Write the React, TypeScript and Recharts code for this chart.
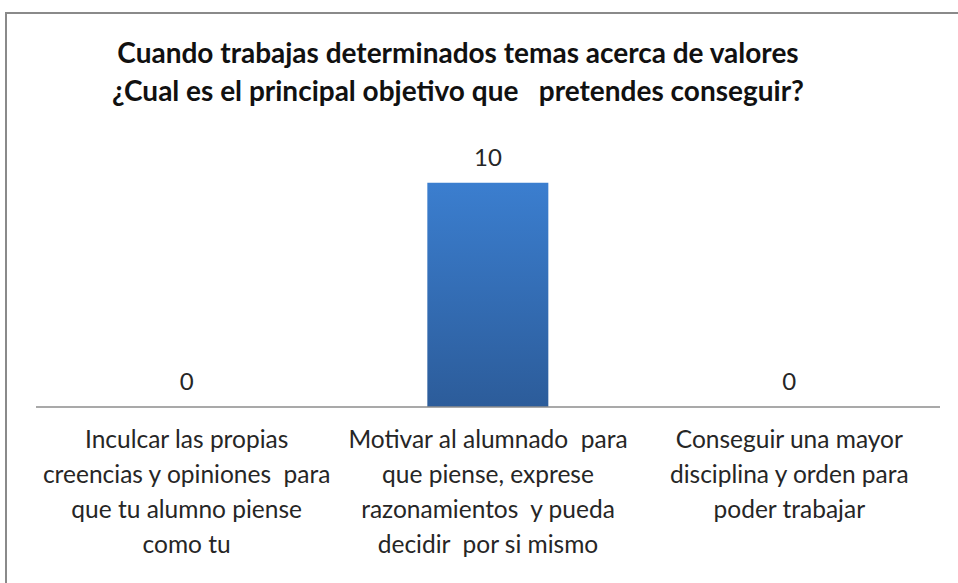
import { Bar, ComposedChart, LabelList, Line, XAxis, YAxis } from "recharts";

const categoryLines: string[][] = [
  ["Inculcar las propias", "creencias y opiniones  para", "que tu alumno piense", "como tu"],
  ["Motivar al alumnado  para", "que piense, exprese", "razonamientos  y pueda", "decidir  por si mismo"],
  ["Conseguir una mayor", "disciplina y orden para", "poder trabajar"],
];
const responses = [0, 10, 0];
const titleLines = [
  "Cuando trabajas determinados temas acerca de valores",
  "¿Cual es el principal objetivo que   pretendes conseguir?",
];

const data = categoryLines.map((lines, i) => ({
  name: lines.join(" "),
  lines,
  value: responses[i],
}));

const FONT = "Lato, 'Open Sans', sans-serif";

function CategoryTick(props: any) {
  const { x, y, payload } = props;
  const lines = data[payload.index]?.lines ?? [payload.value];
  return (
    <text x={x} y={y} textAnchor="middle" fill="#262626" fontSize={24.5} fontFamily={FONT}>
      {lines.map((line: string, i: number) => (
        <tspan key={i} x={x} dy={i === 0 ? 33 : 35} style={{ whiteSpace: "pre" }}>
          {line}
        </tspan>
      ))}
    </text>
  );
}

// labels drawn from the point positions so the zero values get one too
function ValueLabel(props: any) {
  const { x, y, value } = props;
  return (
    <text x={x} y={Number(y) - 17} textAnchor="middle" fill="#262626" fontSize={24} fontFamily={FONT}>
      {value}
    </text>
  );
}

export default function App() {
  return (
    <div style={{ position: "absolute", left: 0, top: 0, width: 958, height: 583, background: "#fff", overflow: "hidden" }}>
      <div
        style={{
          position: "absolute",
          left: 5,
          top: 12,
          right: -10,
          bottom: -10,
          borderTop: "2px solid #8a8a8a",
          borderLeft: "2px solid #8a8a8a",
        }}
      />
      <div
        style={{
          position: "absolute",
          left: 0,
          width: 916,
          top: 33,
          textAlign: "center",
          fontFamily: FONT,
          fontWeight: 700,
          fontSize: 28,
          lineHeight: "38px",
          color: "#111",
          whiteSpace: "pre",
        }}
      >
        {titleLines.map((t) => (
          <div key={t}>{t}</div>
        ))}
      </div>
      <ComposedChart
        width={958}
        height={583}
        data={data}
        margin={{ top: 138, right: 18, bottom: 0, left: 36 }}
        style={{ position: "absolute", left: 0, top: 0 }}
      >
        <defs>
          <linearGradient id="barFill" x1="0" y1="0" x2="0" y2="1">
            <stop offset="0%" stopColor="#3b7ecf" />
            <stop offset="100%" stopColor="#2c5c9a" />
          </linearGradient>
        </defs>
        <XAxis
          dataKey="name"
          axisLine={{ stroke: "#8c8c8c", strokeWidth: 1.5 }}
          tickLine={false}
          interval={0}
          tick={<CategoryTick />}
          height={176}
        />
        <YAxis hide domain={[0, 12]} />
        <Bar dataKey="value" fill="url(#barFill)" barSize={121} isAnimationActive={false} />
        <Line
          dataKey="value"
          stroke="none"
          dot={false}
          activeDot={false}
          legendType="none"
          isAnimationActive={false}
        >
          <LabelList dataKey="value" content={<ValueLabel />} />
        </Line>
      </ComposedChart>
    </div>
  );
}
